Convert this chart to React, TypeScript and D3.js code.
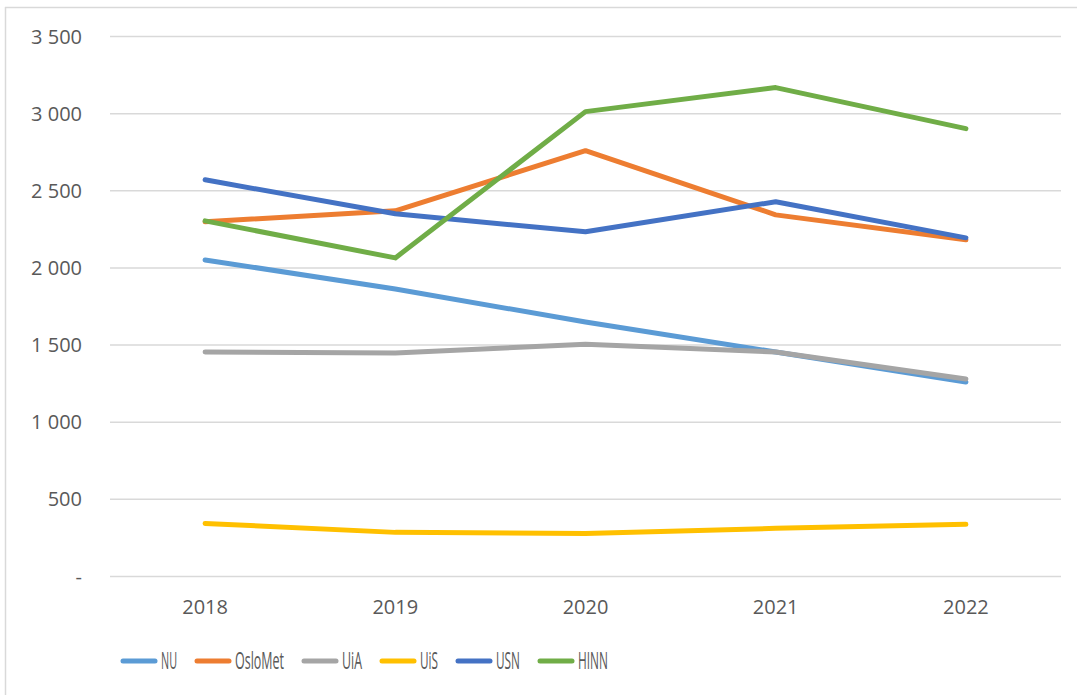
import React from "react";
import * as d3 from "d3";

const years = ["2018", "2019", "2020", "2021", "2022"];
const NU = [2052, 1864, 1649, 1455, 1260];
const OsloMet = [2299, 2370, 2760, 2344, 2182];
const UiA = [1455, 1448, 1506, 1455, 1280];
const UiS = [344, 286, 279, 312, 338];
const USN = [2571, 2351, 2234, 2429, 2195];
const HINN = [2305, 2065, 3013, 3169, 2903];
const yTicks = [0, 500, 1000, 1500, 2000, 2500, 3000, 3500];
const seriesNames = ["NU", "OsloMet", "UiA", "UiS", "USN", "HINN"];
const seriesValues = [NU, OsloMet, UiA, UiS, USN, HINN];
const colors = ["#5B9BD5", "#ED7D31", "#A5A5A5", "#FFC000", "#4472C4", "#70AD47"];
const legendTextWidths = [16, 49, 20, 18, 24, 30];

const W = 1077;
const H = 695;
const left = 110;
const right = 1061;
const top = 36.5;
const bottom = 576.5;

export default function App() {
  const x = d3.scalePoint<string>().domain(years).range([left, right]).padding(0.5);
  const y = d3.scaleLinear().domain([0, 3500]).range([bottom, top]);
  const line = d3
    .line<number>()
    .x((_, i) => x(years[i]) as number)
    .y((d) => y(d));
  const fmt = (v: number) => (v === 0 ? "-" : d3.format(",")(v).replace(",", " "));
  const font = "'Open Sans', 'Noto Sans', sans-serif";

  const lineLen = 32;
  const gapLT = 6;
  const gapItem = 20;
  const itemWidths = legendTextWidths.map((w) => lineLen + gapLT + w);
  let cursor = 123;
  const legendX: number[] = [];
  itemWidths.forEach((w) => {
    legendX.push(cursor);
    cursor += w + gapItem;
  });
  const legendY = 661;

  return (
    <svg
      width={W}
      height={H}
      style={{ position: "absolute", left: 0, top: 0, background: "#fff" }}
      fontFamily={font}
    >
      <rect x={0} y={0} width={W} height={H} fill="#fff" />
      <line x1={5.5} x2={5.5} y1={7} y2={H} stroke="#d9d9d9" strokeWidth={1.5} />
      <line x1={5} x2={W} y1={7.5} y2={7.5} stroke="#d9d9d9" strokeWidth={1.5} />
      {yTicks.map((t) => (
        <g key={t}>
          <line x1={left} x2={right} y1={y(t)} y2={y(t)} stroke="#d9d9d9" strokeWidth={1.5} />
          <text
            x={82}
            y={y(t)}
            dy="0.35em"
            textAnchor="end"
            fontSize={20}
            fill="#595959"
          >
            {fmt(t)}
          </text>
        </g>
      ))}
      {years.map((yr) => (
        <text
          key={yr}
          x={x(yr)}
          y={614}
          textAnchor="middle"
          fontSize={20}
          fill="#595959"
        >
          {yr}
        </text>
      ))}
      {seriesValues.map((vals, i) => (
        <path
          key={seriesNames[i]}
          d={line(vals) || ""}
          fill="none"
          stroke={colors[i]}
          strokeWidth={5}
          strokeLinecap="round"
          strokeLinejoin="round"
        />
      ))}
      {seriesNames.map((n, i) => (
        <g key={n}>
          <line
            x1={legendX[i]}
            x2={legendX[i] + lineLen}
            y1={legendY}
            y2={legendY}
            stroke={colors[i]}
            strokeWidth={5}
            strokeLinecap="round"
          />
          <text
            x={legendX[i] + lineLen + gapLT}
            y={legendY}
            dy="0.36em"
            fontSize={23}
            fill="#595959"
            textLength={legendTextWidths[i]}
            lengthAdjust="spacingAndGlyphs"
          >
            {n}
          </text>
        </g>
      ))}
    </svg>
  );
}
